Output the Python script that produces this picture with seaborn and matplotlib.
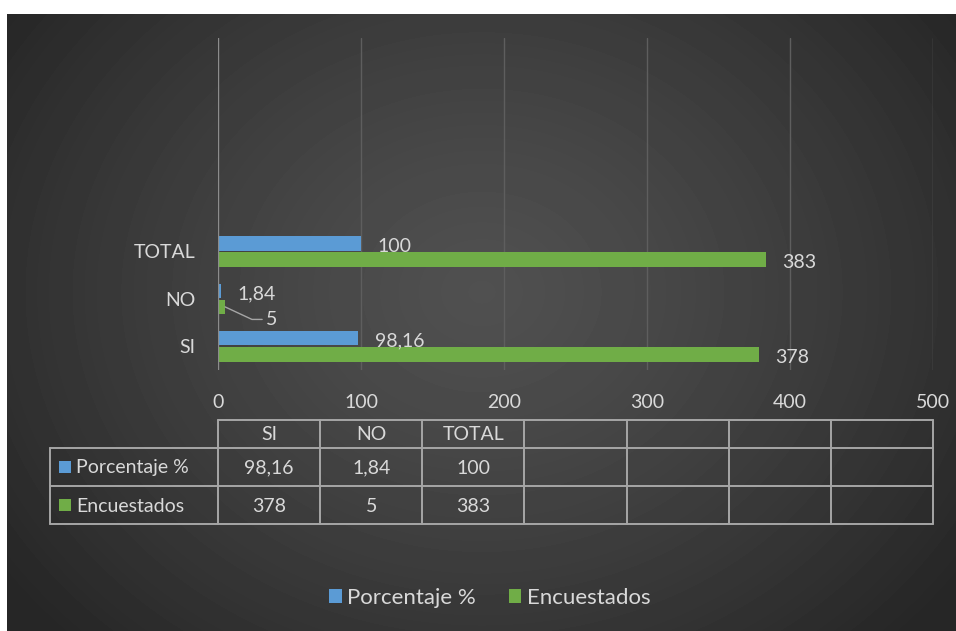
import numpy as np
import pandas as pd
import matplotlib
matplotlib.use("Agg")
import matplotlib.pyplot as plt
import seaborn as sns
from matplotlib.patches import Rectangle, Patch
from matplotlib.lines import Line2D

# ---- data -------------------------------------------------------------
categories = ["SI", "NO", "TOTAL"]
series_names = ["Porcentaje %", "Encuestados"]
porcentaje = [98.16, 1.84, 100]
encuestados = [378, 5, 383]
x_ticks = [0, 100, 200, 300, 400, 500]
n_slots = 7  # category slots on the value axis (and columns of the data table)

BLUE = "#5b9bd5"
GREEN = "#70ad47"
TEXT = "#d9d9d9"
GRID = "#5e5e5e"
TABLE_LINE = "#a6a6a6"

sns.set_theme(style="white")
plt.rcParams["font.family"] = ["Lato", "DejaVu Sans"]
FS = 14


def fmt(v):
    s = f"{v:g}"
    return s.replace(".", ",")


df = pd.DataFrame({
    "category": categories * 2,
    "series": [series_names[0]] * 3 + [series_names[1]] * 3,
    "value": porcentaje + encuestados,
})

W, H = 956, 631
fig = plt.figure(figsize=(W / 100, H / 100), dpi=100)
fig.patch.set_facecolor("white")


def fx(px):
    return px / W


def fy(py):
    return 1 - py / H


# ---- dark radial-gradient panel ----------------------------------------
bg = fig.add_axes([fx(7), 0, 1 - fx(7), fy(14)])
ph, pw = H - 14, W - 7
yy, xx = np.mgrid[0:ph, 0:pw]
r = np.sqrt(((xx - 0.50 * pw) / (0.62 * pw)) ** 2 + ((yy - 0.45 * ph) / (0.80 * ph)) ** 2)
r = np.clip(r, 0, 1)
c_center, c_edge = 0x50 / 255, 0x26 / 255
img = c_center + (c_edge - c_center) * r ** 1.3
bg.imshow(img, cmap="gray", vmin=0, vmax=1, aspect="auto", interpolation="bilinear")
bg.set_axis_off()

# ---- bar chart -----------------------------------------------------------
left_px, right_px, top_px, bot_px = 218, 933, 38, 370
ax = fig.add_axes([fx(left_px), fy(bot_px), fx(right_px) - fx(left_px), fy(top_px) - fy(bot_px)])
ax.patch.set_alpha(0)

order = categories[::-1]
sns.barplot(data=df, x="value", y="category", hue="series", order=order,
            hue_order=series_names, palette=[BLUE, GREEN], saturation=1,
            width=0.68, gap=0.1, orient="h", ax=ax, legend=False, zorder=3,
            edgecolor="none", linewidth=0)

ax.set_xlim(x_ticks[0], x_ticks[-1])
ax.set_ylim(len(categories) - 0.5, len(categories) - 0.5 - n_slots)
ax.set_xticks(x_ticks)
ax.set_xticklabels([str(t) for t in x_ticks])
ax.xaxis.grid(True, color=GRID, lw=1)
ax.yaxis.grid(False)
for s in ax.spines.values():
    s.set_visible(False)
ax.axvline(0, color="#8c8c8c", lw=1.6, zorder=4)
ax.tick_params(axis="x", length=0, pad=17, labelsize=FS, labelcolor=TEXT)
ax.tick_params(axis="y", length=0, pad=16, labelsize=FS, labelcolor=TEXT)
ax.set_xlabel("")
ax.set_ylabel("")

# data labels
off = 0.68 / 4
for i, cat in enumerate(order):
    k = categories.index(cat)
    vals = [porcentaje[k], encuestados[k]]
    for j, v in enumerate(vals):
        y = i + (-off if j == 0 else off)
        if cat == "NO" and j == 1:
            ax.annotate(fmt(v), xy=(v, y), xytext=(29, -9), textcoords="offset points",
                        va="center", ha="left", color=TEXT, fontsize=FS,
                        arrowprops=dict(arrowstyle="-", color="#a6a6a6", lw=1,
                                        shrinkA=0, shrinkB=0,
                                        connectionstyle="angle,angleA=180,angleB=-25,rad=0"))
        else:
            ax.annotate(fmt(v), xy=(v, y), xytext=(12, -2), textcoords="offset points",
                        va="center", ha="left", color=TEXT, fontsize=FS)

# ---- data table ----------------------------------------------------------
tab = fig.add_axes([0, 0, 1, 1])
tab.set_xlim(0, W)
tab.set_ylim(H, 0)
tab.set_axis_off()
tab.patch.set_alpha(0)

col_edges = np.linspace(left_px, right_px, n_slots + 1)
row_edges = [420, 448, 486, 524]
label_left = 50
lw = 1.4
# horizontal lines
tab.add_line(Line2D([left_px, right_px], [row_edges[0]] * 2, color=TABLE_LINE, lw=lw))
for yv in row_edges[1:]:
    tab.add_line(Line2D([label_left, right_px], [yv] * 2, color=TABLE_LINE, lw=lw))
# vertical lines
tab.add_line(Line2D([label_left] * 2, [row_edges[1], row_edges[3]], color=TABLE_LINE, lw=lw))
for xv in col_edges:
    tab.add_line(Line2D([xv] * 2, [row_edges[0], row_edges[3]], color=TABLE_LINE, lw=lw))

centers = (col_edges[:-1] + col_edges[1:]) / 2
row_mid = [(row_edges[i] + row_edges[i + 1]) / 2 for i in range(3)]
for c, cat in enumerate(categories):
    tab.text(centers[c], row_mid[0] + 1, cat, ha="center", va="center", color=TEXT, fontsize=FS)
    tab.text(centers[c], row_mid[1] + 1, fmt(porcentaje[c]), ha="center", va="center", color=TEXT, fontsize=FS)
    tab.text(centers[c], row_mid[2] + 1, fmt(encuestados[c]), ha="center", va="center", color=TEXT, fontsize=FS)
for r_i, (name, colr) in enumerate(zip(series_names, [BLUE, GREEN])):
    ym = row_mid[r_i + 1]
    tab.add_patch(Rectangle((59, ym - 6), 12, 12, facecolor=colr, edgecolor="none"))
    tab.text(76, ym + 1, name, ha="left", va="center", color=TEXT, fontsize=FS)

# ---- legend --------------------------------------------------------------
handles = [Patch(facecolor=BLUE, edgecolor="none"), Patch(facecolor=GREEN, edgecolor="none")]
fig.legend(handles, series_names, loc="center", bbox_to_anchor=(fx(490), fy(598)),
           ncol=2, frameon=False, fontsize=16, labelcolor=TEXT,
           handlelength=0.55, handleheight=0.55, handletextpad=0.25, columnspacing=1.5)

fig.savefig("out.png", dpi=100, facecolor=fig.get_facecolor())
